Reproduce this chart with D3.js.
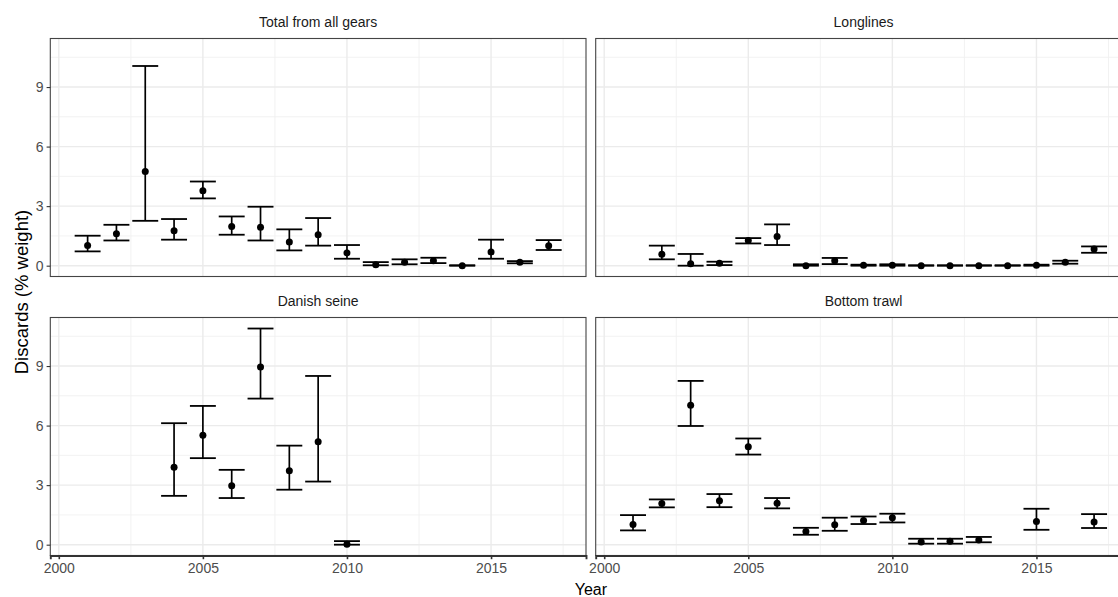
<!DOCTYPE html>
<html>
<head>
<meta charset="utf-8">
<script src="https://cdn.jsdelivr.net/npm/d3@7"></script>
<style>
  html, body { margin: 0; padding: 0; background: #fff; }
  svg { display: block; font-family: "Liberation Sans", Arial, sans-serif; }
</style>
</head>
<body>
<svg id="chart" width="1118" height="597"></svg>
<script>
// ---- data ----
const totalYears = [2001,2002,2003,2004,2005,2006,2007,2008,2009,2010,2011,2012,2013,2014,2015,2016,2017];
const totalMean  = [1.02,1.61,4.74,1.76,3.77,1.98,1.93,1.19,1.56,0.64,0.05,0.17,0.25,0.00,0.69,0.17,1.01];
const totalLower = [0.72,1.27,2.26,1.31,3.39,1.56,1.27,0.77,1.01,0.35,0.02,0.07,0.13,0.00,0.35,0.12,0.79];
const totalUpper = [1.51,2.06,10.06,2.35,4.24,2.48,2.97,1.83,2.40,1.04,0.18,0.32,0.40,0.02,1.31,0.23,1.29];

const longYears = [2002,2003,2004,2005,2006,2007,2008,2009,2010,2011,2012,2013,2014,2015,2016,2017];
const longMean  = [0.57,0.10,0.12,1.27,1.47,0.00,0.25,0.02,0.02,0.00,0.00,0.00,0.00,0.02,0.17,0.84];
const longLower = [0.32,0.00,0.03,1.12,1.04,0.00,0.08,0.00,0.00,0.00,0.00,0.00,0.00,0.00,0.10,0.65];
const longUpper = [1.01,0.59,0.20,1.39,2.08,0.07,0.39,0.05,0.07,0.02,0.02,0.02,0.02,0.05,0.25,0.97];

const seineYears = [2004,2005,2006,2007,2008,2009,2010];
const seineMean  = [3.90,5.51,2.97,8.95,3.72,5.18,0.02];
const seineLower = [2.46,4.36,2.35,7.36,2.77,3.18,0.00];
const seineUpper = [6.12,6.99,3.77,10.89,4.99,8.50,0.18];

const trawlYears = [2001,2002,2003,2004,2005,2006,2007,2008,2009,2010,2011,2012,2013,2015,2017];
const trawlMean  = [1.02,2.08,7.02,2.21,4.93,2.09,0.67,1.01,1.22,1.36,0.13,0.17,0.23,1.17,1.14];
const trawlLower = [0.72,1.88,5.98,1.89,4.54,1.83,0.50,0.70,1.04,1.12,0.05,0.05,0.12,0.75,0.84];
const trawlUpper = [1.49,2.28,8.25,2.55,5.35,2.35,0.85,1.36,1.42,1.56,0.30,0.30,0.39,1.81,1.54];

const panelTitles = ["Total from all gears", "Longlines", "Danish seine", "Bottom trawl"];
const yTicks = [0, 3, 6, 9];
const yMinor = [1.5, 4.5, 7.5, 10.5];
const xTicks = [2000, 2005, 2010, 2015];
const xMinor = [2002.5, 2007.5, 2012.5, 2017.5];
const xLabel = "Year";
const yLabel = "Discards (% weight)";

// ---- layout ----
const svg = d3.select("#chart");
const cols = [[50.3, 586], [595.7, 1131.4]];
const rows = [[38.5, 276.5], [317.5, 555.5]];
const xDomain = [1999.705, 2018.295];
const yDomain = [-0.545, 11.445];
const capHalf = 0.45;

const panels = [
  {title: panelTitles[0], years: totalYears, mean: totalMean, lower: totalLower, upper: totalUpper, c: 0, r: 0},
  {title: panelTitles[1], years: longYears,  mean: longMean,  lower: longLower,  upper: longUpper,  c: 1, r: 0},
  {title: panelTitles[2], years: seineYears, mean: seineMean, lower: seineLower, upper: seineUpper, c: 0, r: 1},
  {title: panelTitles[3], years: trawlYears, mean: trawlMean, lower: trawlLower, upper: trawlUpper, c: 1, r: 1}
];

panels.forEach(p => {
  const x = d3.scaleLinear().domain(xDomain).range(cols[p.c]);
  const y = d3.scaleLinear().domain(yDomain).range([rows[p.r][1], rows[p.r][0]]);
  const g = svg.append("g");
  const [x0, x1] = cols[p.c];
  const [y0, y1] = rows[p.r];

  // strip title
  g.append("text")
    .attr("x", (x0 + x1) / 2).attr("y", y0 - 11.2)
    .attr("text-anchor", "middle")
    .attr("font-size", 14).attr("fill", "#1a1a1a")
    .text(p.title);

  // grid
  g.selectAll(".ymin").data(yMinor).join("line")
    .attr("x1", x0).attr("x2", x1).attr("y1", d => y(d)).attr("y2", d => y(d))
    .attr("stroke", "#f1f1f1").attr("stroke-width", 0.9);
  g.selectAll(".xmin").data(xMinor).join("line")
    .attr("y1", y0).attr("y2", y1).attr("x1", d => x(d)).attr("x2", d => x(d))
    .attr("stroke", "#f1f1f1").attr("stroke-width", 0.9);
  g.selectAll(".ymaj").data(yTicks).join("line")
    .attr("x1", x0).attr("x2", x1).attr("y1", d => y(d)).attr("y2", d => y(d))
    .attr("stroke", "#ebebeb").attr("stroke-width", 1.4);
  g.selectAll(".xmaj").data(xTicks).join("line")
    .attr("y1", y0).attr("y2", y1).attr("x1", d => x(d)).attr("x2", d => x(d))
    .attr("stroke", "#ebebeb").attr("stroke-width", 1.4);

  // panel border
  g.append("rect")
    .attr("x", x0).attr("y", y0).attr("width", x1 - x0).attr("height", y1 - y0)
    .attr("fill", "none").attr("stroke", "#444").attr("stroke-width", 1.1);

  const idx = d3.range(p.years.length);
  // error bars
  g.selectAll(".ev").data(idx).join("line")
    .attr("x1", i => x(p.years[i])).attr("x2", i => x(p.years[i]))
    .attr("y1", i => y(p.lower[i])).attr("y2", i => y(p.upper[i]))
    .attr("stroke", "#000").attr("stroke-width", 1.7);
  g.selectAll(".cu").data(idx).join("line")
    .attr("x1", i => x(p.years[i] - capHalf)).attr("x2", i => x(p.years[i] + capHalf))
    .attr("y1", i => y(p.upper[i])).attr("y2", i => y(p.upper[i]))
    .attr("stroke", "#000").attr("stroke-width", 1.8);
  g.selectAll(".cl").data(idx).join("line")
    .attr("x1", i => x(p.years[i] - capHalf)).attr("x2", i => x(p.years[i] + capHalf))
    .attr("y1", i => y(p.lower[i])).attr("y2", i => y(p.lower[i]))
    .attr("stroke", "#000").attr("stroke-width", 1.8);
  g.selectAll(".pt").data(idx).join("circle")
    .attr("cx", i => x(p.years[i])).attr("cy", i => y(p.mean[i]))
    .attr("r", 3.5).attr("fill", "#000");

  // y axis on left column
  if (p.c === 0) {
    const ax = g.append("g").attr("transform", `translate(${x0},0)`)
      .call(d3.axisLeft(y).tickValues(yTicks).tickSize(3.7).tickPadding(3).tickFormat(d3.format("d")));
    ax.select(".domain").remove();
    ax.selectAll(".tick line").attr("stroke", "#333").attr("stroke-width", 1.1);
    ax.selectAll(".tick text").attr("fill", "#4d4d4d").attr("font-size", 14)
      .attr("font-family", "Liberation Sans, Arial, sans-serif");
  }
  // x axis on bottom row
  if (p.r === 1) {
    const ax = g.append("g").attr("transform", `translate(0,${y1})`)
      .call(d3.axisBottom(x).tickValues(xTicks).tickSize(3.7).tickPadding(3.5).tickFormat(d3.format("d")));
    ax.select(".domain").attr("stroke", "#333").attr("stroke-width", 1.9);
    ax.selectAll(".tick line").attr("stroke", "#333").attr("stroke-width", 1.6);
    ax.selectAll(".tick text").attr("fill", "#4d4d4d").attr("font-size", 14)
      .attr("font-family", "Liberation Sans, Arial, sans-serif");
  }
});

// axis titles
svg.append("text")
  .attr("x", (cols[0][0] + cols[1][1]) / 2).attr("y", 594.5)
  .attr("text-anchor", "middle").attr("font-size", 16).attr("fill", "#000")
  .text(xLabel);
svg.append("text")
  .attr("transform", "translate(27.5,292) rotate(-90)")
  .attr("text-anchor", "middle").attr("font-size", 18.5).attr("fill", "#000")
  .text(yLabel);
</script>
</body>
</html>
